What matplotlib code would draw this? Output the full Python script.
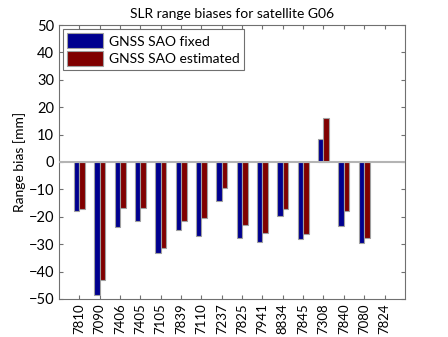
import numpy as np
import matplotlib
matplotlib.use("Agg")
import matplotlib.pyplot as plt

stations = ["7810", "7090", "7406", "7405", "7105", "7839", "7110", "7237",
            "7825", "7941", "8834", "7845", "7308", "7840", "7080", "7824"]
sao_fixed = [-18.0, -48.7, -23.8, -21.5, -33.1, -24.9, -26.9, -14.3,
             -27.7, -29.2, -19.8, -28.0, 8.4, -23.4, -29.4, np.nan]
sao_estimated = [-17.3, -43.2, -16.8, -16.7, -31.4, -21.5, -20.6, -9.4,
                 -23.0, -26.0, -17.3, -26.2, 16.0, -17.8, -27.7, np.nan]

plt.rcParams['font.family'] = ['Lato', 'DejaVu Sans']

fig = plt.figure(figsize=(4.48, 3.37), dpi=100)
ax = fig.add_axes([0.1317, 0.1128, 0.772, 0.813])

x = np.arange(1, len(stations) + 1)
w = 0.27
ax.bar(x - w / 2, sao_fixed, w, color="#00008f", edgecolor="#a0a0a0",
       linewidth=0.8, label="GNSS SAO fixed", zorder=2)
ax.bar(x + w / 2, sao_estimated, w, color="#800000", edgecolor="#a0a0a0",
       linewidth=0.8, label="GNSS SAO estimated", zorder=2)
ax.axhline(0, color="#b4b4b4", linewidth=1.5, zorder=3)

ax.set_xlim(0, 17)
ax.set_ylim(-50, 50)
ax.set_yticks(np.arange(-50, 51, 10))
ax.set_xticks(x)
ax.set_xticklabels(stations, rotation=90, fontsize=9.5)
ax.tick_params(axis="y", labelsize=10.5)
ax.tick_params(direction="in", top=True, right=True, length=3, color="#707070")
ax.tick_params(axis="x", pad=3)
for s in ax.spines.values():
    s.set_color("#707070")

ax.set_ylabel("Range bias [mm]", fontsize=10, labelpad=2)
ax.set_title("SLR range biases for satellite G06", fontsize=10, pad=5)

leg = ax.legend(loc="upper left", fontsize=10, fancybox=False, framealpha=1,
                edgecolor="#707070", handlelength=2.6, handleheight=1.3,
                borderaxespad=0.3, borderpad=0.3, labelspacing=0.15,
                handletextpad=0.4)
leg.get_frame().set_linewidth(0.8)

fig.savefig("out.png", dpi=100)
